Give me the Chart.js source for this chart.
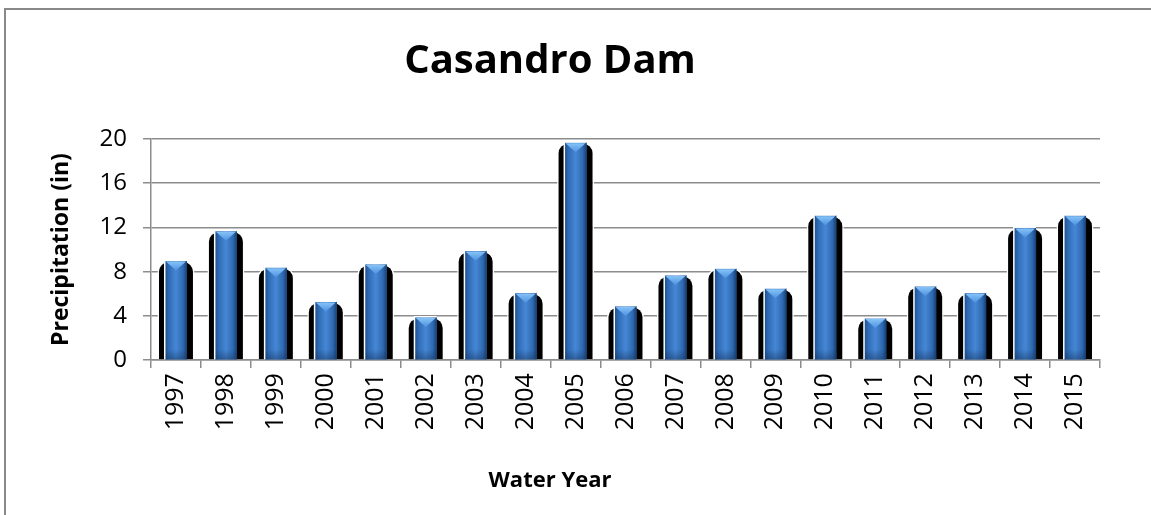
<!DOCTYPE html>
<html lang="en">
<head>
  <meta charset="UTF-8">
  <title>Casandro Dam</title>
  <script src="https://cdn.jsdelivr.net/npm/chart.js"></script>
  <style>
    html, body { margin: 0; padding: 0; background: #fff; }
    #wrap { width: 1151px; height: 515px; position: relative; }
  </style>
</head>
<body>
  <div id="wrap">
    <canvas id="chart" width="1151" height="515"></canvas>
  </div>

  <script>
    // Water years and precipitation (in)
    const years = ['1997', '1998', '1999', '2000', '2001', '2002', '2003', '2004', '2005', '2006',
                   '2007', '2008', '2009', '2010', '2011', '2012', '2013', '2014', '2015'];
    const precip = [9.0, 11.7, 8.4, 5.3, 8.7, 3.9, 9.9, 6.1, 19.7, 4.9,
                    7.7, 8.3, 6.5, 13.1, 3.8, 6.7, 6.1, 12.0, 13.1];
    const yTicks = [0, 4, 8, 12, 16, 20];

    const FONT = '"Open Sans", "Noto Sans", sans-serif';
    const GRID = '#8c8c8c';

    // outer frame of the chart (runs off the right and bottom edges)
    const framePlugin = {
      id: 'frame',
      beforeDraw(chart) {
        const ctx = chart.ctx;
        ctx.save();
        ctx.strokeStyle = '#898989';
        ctx.lineWidth = 2;
        ctx.strokeRect(5, 9, chart.width + 20, chart.height + 20);
        ctx.restore();
      }
    };

    // shading on the blue bars: cylinder gradient + light chevron at top
    const shadePlugin = {
      id: 'shade',
      afterDatasetsDraw(chart) {
        const ctx = chart.ctx;
        const meta = chart.getDatasetMeta(0);
        ctx.save();
        meta.data.forEach(bar => {
          const { x, y, base, width } = bar.getProps(['x', 'y', 'base', 'width'], true);
          const l = x - width / 2, r = x + width / 2;
          const g = ctx.createLinearGradient(l, 0, r, 0);
          g.addColorStop(0, '#1f4f8c');
          g.addColorStop(0.18, '#2f6cb6');
          g.addColorStop(0.5, '#4687d5');
          g.addColorStop(0.82, '#2f6ab2');
          g.addColorStop(1, '#173f73');
          ctx.fillStyle = g;
          ctx.fillRect(l, y, width, base - y);

          // darker foot
          const gb = ctx.createLinearGradient(0, base - 10, 0, base);
          gb.addColorStop(0, 'rgba(20,50,90,0)');
          gb.addColorStop(1, 'rgba(20,50,90,0.45)');
          ctx.fillStyle = gb;
          ctx.fillRect(l, base - 10, width, 10);

          // white edge on the left and top
          ctx.fillStyle = '#ffffff';
          ctx.fillRect(l - 1, y, 1.5, base - y);
          ctx.fillRect(l - 1, y - 1, width + 1, 1.5);

          // chevron
          const gt = ctx.createLinearGradient(0, y, 0, y + 9);
          gt.addColorStop(0, '#8cc8fa');
          gt.addColorStop(1, '#5598e2');
          ctx.fillStyle = gt;
          ctx.beginPath();
          ctx.moveTo(l + 1, y + 1);
          ctx.lineTo(r - 1, y + 1);
          ctx.lineTo(x, y + 10);
          ctx.closePath();
          ctx.fill();
        });
        ctx.restore();
      }
    };

    new Chart(document.getElementById('chart').getContext('2d'), {
      type: 'bar',
      data: {
        labels: years,
        datasets: [{
          label: 'Precipitation',
          data: precip,
          backgroundColor: '#3a78c4',
          barPercentage: 0.44,
          categoryPercentage: 1,
          grouped: false,
          order: 1
        }, {
          label: 'Shadow',
          data: precip,
          backgroundColor: '#000000',
          borderColor: '#ffffff',
          borderWidth: { top: 1.5, left: 1.5, right: 1.5, bottom: 0 },
          borderSkipped: 'bottom',
          borderRadius: { topLeft: 11, topRight: 11, bottomLeft: 0, bottomRight: 0 },
          barPercentage: 0.74,
          categoryPercentage: 1,
          grouped: false,
          order: 2
        }]
      },
      options: {
        responsive: false,
        animation: false,
        devicePixelRatio: 1,
        layout: { padding: { left: 0, right: 51, top: 0, bottom: 0 } },
        plugins: {
          legend: { display: false },
          tooltip: { enabled: false },
          title: {
            display: true,
            text: 'Casandro Dam',
            color: '#000',
            font: { family: FONT, size: 40, weight: 'bold', lineHeight: 1.2 },
            padding: { top: 38, bottom: 53 }
          },
          subtitle: {
            display: true,
            position: 'bottom',
            text: 'Water Year',
            color: '#000',
            font: { family: FONT, size: 22, weight: 'bold', lineHeight: 1.2 },
            padding: { top: 21, bottom: 21.5 }
          }
        },
        scales: {
          x: {
            afterFit(scale) { scale.height = 86; },
            grid: {
              offset: true,
              drawOnChartArea: false,
              drawTicks: true,
              tickLength: 8,
              color: GRID,
              lineWidth: 1.5
            },
            border: { display: true, color: GRID, width: 1.5 },
            ticks: {
              autoSkip: false,
              minRotation: 90,
              maxRotation: 90,
              padding: 5,
              color: '#000',
              font: { family: FONT, size: 25 }
            }
          },
          y: {
            min: 0,
            max: 20,
            afterFit(scale) { scale.width = 151; },
            afterBuildTicks(scale) { scale.ticks = yTicks.map(v => ({ value: v })); },
            grid: {
              drawTicks: true,
              tickLength: 8,
              color: GRID,
              lineWidth: 1.5
            },
            border: { display: true, color: GRID, width: 1.5 },
            ticks: {
              padding: 16,
              color: '#000',
              font: { family: FONT, size: 24 }
            },
            title: {
              display: true,
              text: 'Precipitation (in)',
              color: '#000',
              font: { family: FONT, size: 23, weight: 'bold', lineHeight: 1.2 },
              padding: { top: 48, bottom: 0 }
            }
          }
        }
      },
      plugins: [framePlugin, shadePlugin]
    });
  </script>
</body>
</html>
